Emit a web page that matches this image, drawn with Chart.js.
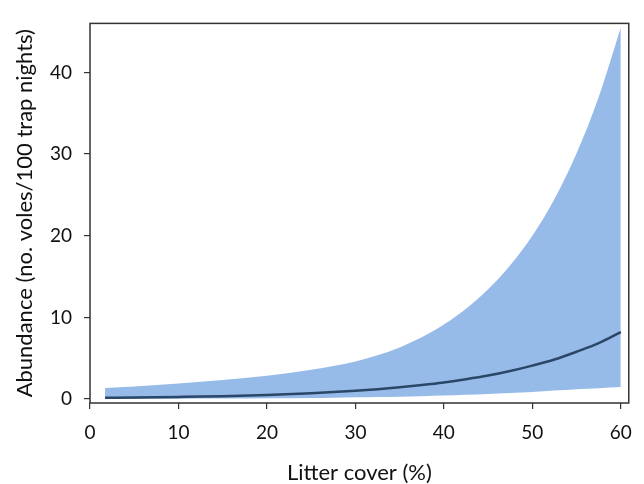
<!DOCTYPE html>
<html>
<head>
<meta charset="utf-8">
<script src="https://cdn.jsdelivr.net/npm/chart.js@4"></script>
<style>
  body { margin: 0; background: #fff; }
  canvas { display: block; }
</style>
</head>
<body>
<canvas id="myChart" width="644" height="484"></canvas>
<script>
// values
const litterCover = [1.7, 5, 10, 15, 20, 25, 27.5, 30, 32.5, 35, 37.5, 40, 42.5, 45, 47.5, 50, 52.5, 55, 57.5, 60];
const abundanceFit = [0.15, 0.18, 0.26, 0.36, 0.51, 0.72, 0.86, 1.02, 1.21, 1.44, 1.72, 2.04, 2.43, 2.88, 3.44, 4.1, 4.85, 5.8, 6.85, 8.2];
const abundanceUpper = [1.35, 1.54, 1.9, 2.33, 2.86, 3.58, 4.05, 4.6, 5.37, 6.33, 7.57, 9.13, 11.07, 13.45, 16.39, 20.0, 24.5, 30.1, 37.0, 45.5];
const abundanceLower = [0.015, 0.022, 0.035, 0.06, 0.09, 0.14, 0.17, 0.21, 0.25, 0.3, 0.36, 0.43, 0.52, 0.62, 0.75, 0.88, 1.04, 1.2, 1.33, 1.47];
const xTickValues = [0, 10, 20, 30, 40, 50, 60];
const yTickValues = [0, 10, 20, 30, 40];

const fontFamily = 'Lato, "Open Sans", sans-serif';
const axisColor = '#333333';

function toPoints(ys) {
  return litterCover.map((x, i) => ({ x: x, y: ys[i] }));
}

const framePlugin = {
  id: 'frame',
  afterDraw(chart) {
    const { ctx, chartArea } = chart;
    ctx.save();
    ctx.strokeStyle = axisColor;
    ctx.lineWidth = 1.5;
    ctx.strokeRect(chartArea.left, chartArea.top, chartArea.right - chartArea.left, chartArea.bottom - chartArea.top);
    ctx.restore();
  }
};

const ctx = document.getElementById('myChart').getContext('2d');
const myChart = new Chart(ctx, {
  type: 'line',
  data: {
    datasets: [
      {
        label: 'Fit',
        data: toPoints(abundanceFit),
        borderColor: '#2b4768',
        borderWidth: 2.5,
        pointRadius: 0,
        fill: false,
        cubicInterpolationMode: 'monotone'
      },
      {
        label: 'Lower',
        data: toPoints(abundanceLower),
        borderWidth: 0,
        pointRadius: 0,
        fill: false,
        cubicInterpolationMode: 'monotone'
      },
      {
        label: 'Upper',
        data: toPoints(abundanceUpper),
        borderWidth: 0,
        pointRadius: 0,
        backgroundColor: 'rgb(151, 187, 233)',
        fill: 1,
        cubicInterpolationMode: 'monotone'
      }
    ]
  },
  options: {
    responsive: false,
    animation: false,
    layout: { padding: { top: 14, right: 12, left: 0, bottom: 0 } },
    plugins: {
      legend: { display: false },
      tooltip: { enabled: false }
    },
    scales: {
      x: {
        type: 'linear',
        min: 0,
        max: 60.9,
        afterFit: axis => { axis.height = 81; },
        afterBuildTicks: axis => { axis.ticks = xTickValues.map(v => ({ value: v })); },
        border: { display: false },
        grid: { drawOnChartArea: false, drawTicks: true, tickLength: 6, color: axisColor, lineWidth: 1.2 },
        ticks: { color: '#111', padding: 12, maxRotation: 0, font: { family: fontFamily, size: 19 } },
        title: {
          display: true,
          text: 'Litter cover (%)',
          color: '#111',
          padding: { top: 0, bottom: -2 },
          font: { family: fontFamily, size: 22 }
        }
      },
      y: {
        min: -0.48,
        max: 46,
        afterFit: axis => { axis.width = 90; },
        afterBuildTicks: axis => { axis.ticks = yTickValues.map(v => ({ value: v })); },
        border: { display: false },
        grid: { drawOnChartArea: false, drawTicks: true, tickLength: 6, color: axisColor, lineWidth: 1.2 },
        ticks: { color: '#111', padding: 12, font: { family: fontFamily, size: 19 } },
        title: {
          display: true,
          text: 'Abundance (no. voles/100 trap nights)',
          color: '#111',
          padding: { top: 12, bottom: 0 },
          font: { family: fontFamily, size: 22 }
        }
      }
    }
  },
  plugins: [framePlugin]
});
</script>
</body>
</html>
